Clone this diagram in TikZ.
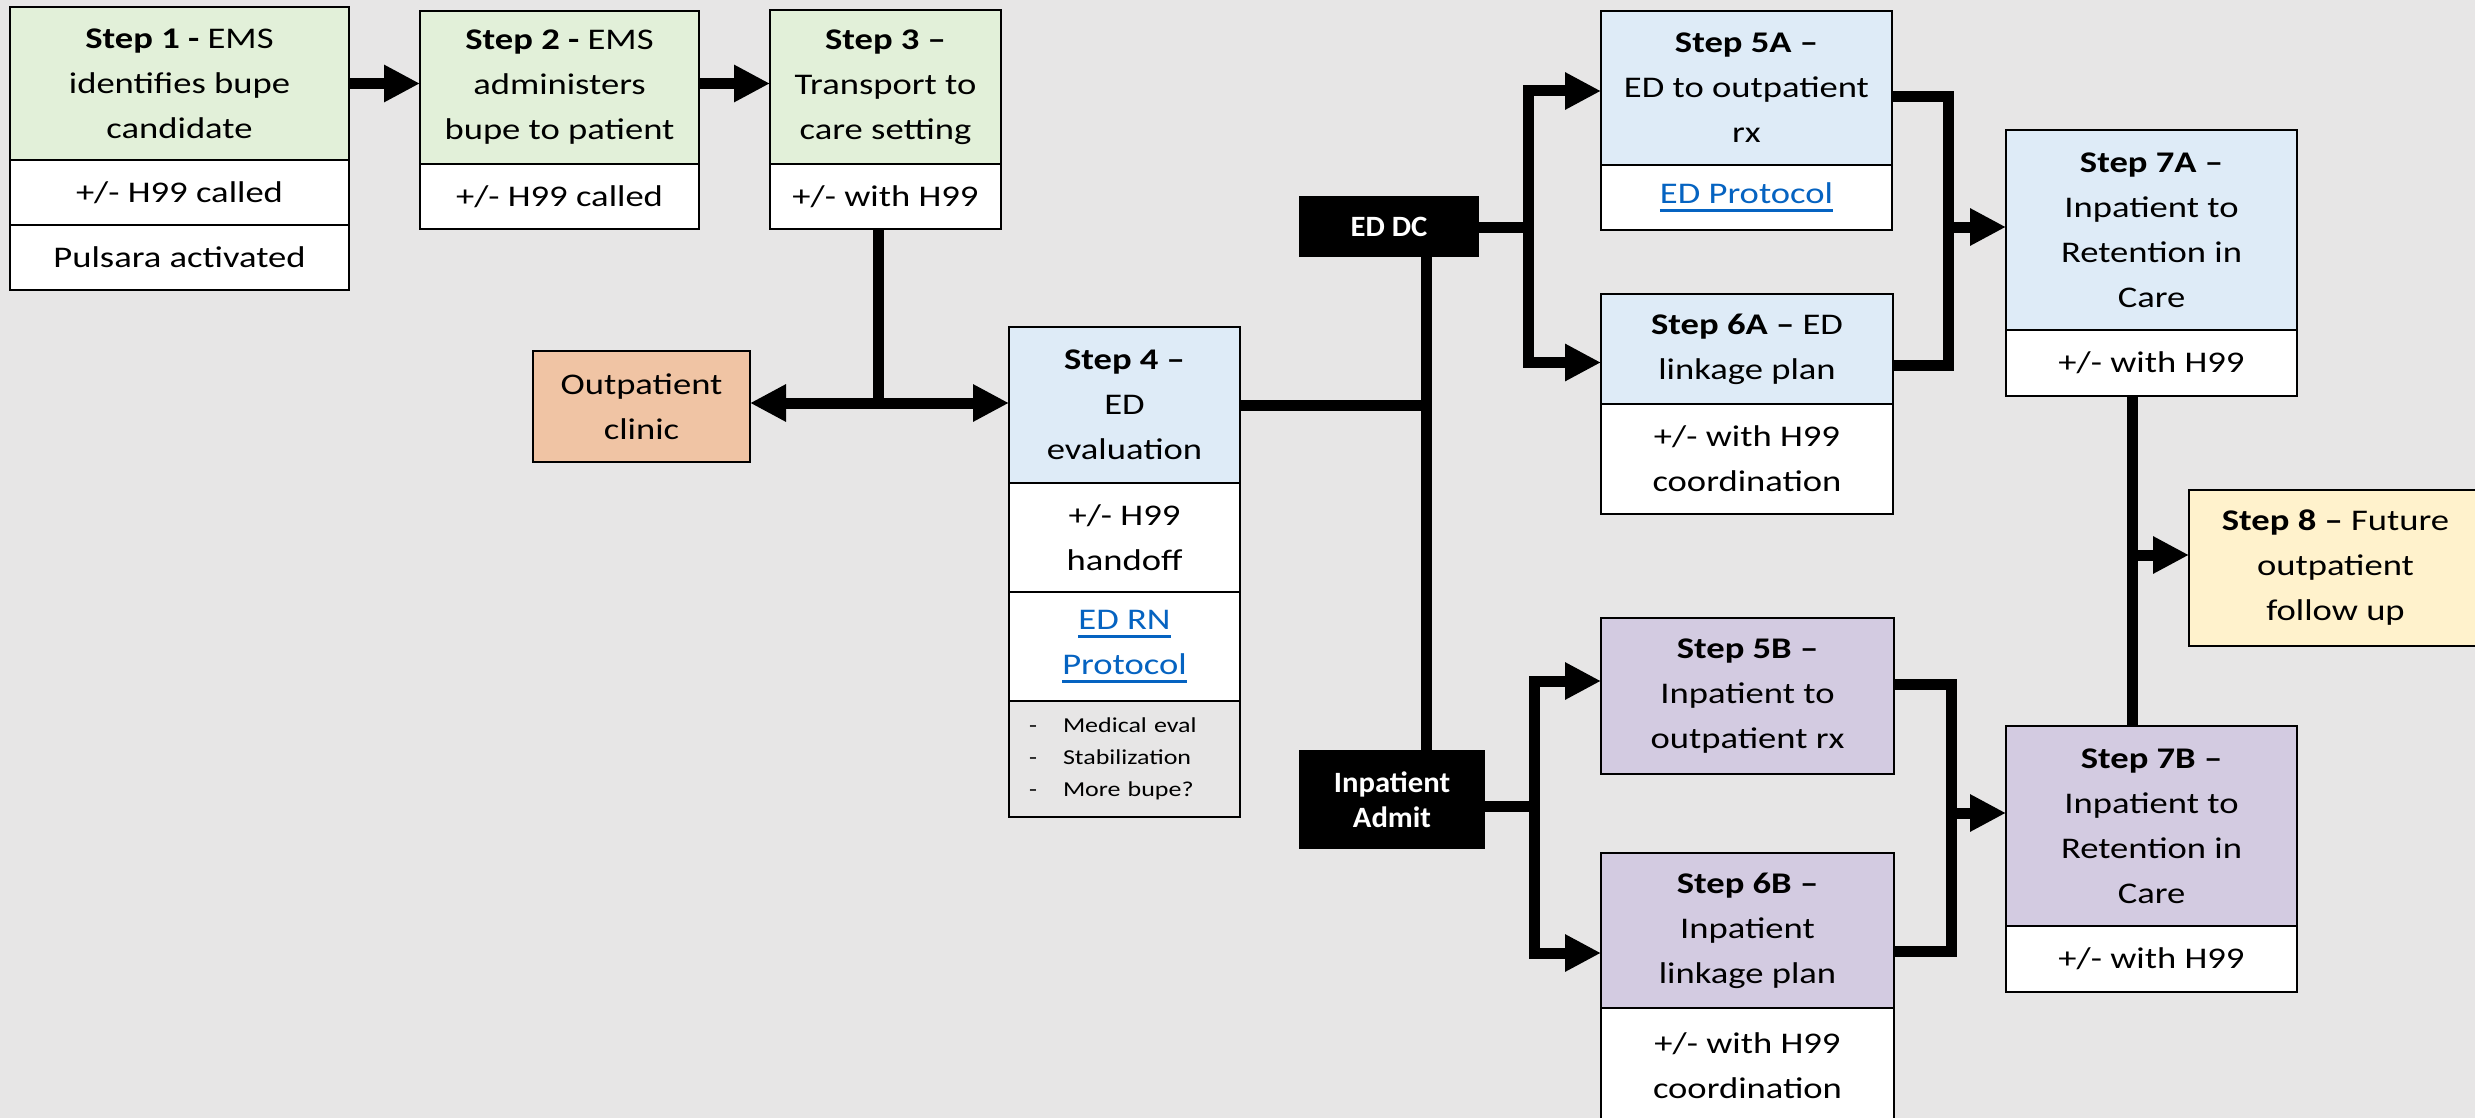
\documentclass[tikz,border=0pt]{standalone}
\usepackage{fontspec}
\setmainfont{Carlito}[FakeStretch=1.22]
\newfontfamily\lblfont{Carlito}[FakeStretch=1.04]
\usetikzlibrary{arrows.meta}
\definecolor{bgcol}{HTML}{E7E6E6}
\definecolor{grn}{HTML}{E2F0D9}
\definecolor{blu}{HTML}{DEEBF7}
\definecolor{org}{HTML}{F0C4A4}
\definecolor{pur}{HTML}{D3CBE1}
\definecolor{yel}{HTML}{FFF2CC}
\definecolor{linkblue}{HTML}{0563C1}
\newcommand\linktext[1]{\textcolor{linkblue}{\setbox0\hbox{#1}\rlap{\rule[-8pt]{\wd0}{2.5pt}}\box0}}
\begin{document}
\begin{tikzpicture}[x=1pt,y=-1pt,
  box/.style={draw=black, line width=2.5pt, anchor=north west, inner sep=0pt, outer sep=0pt, align=center, font=\fontsize{30}{45}\selectfont, text=black},
  lbl/.style={box, fill=black, text=white, font=\lblfont\bfseries\fontsize{29.5}{35}\selectfont},
  conn/.style={draw=black, line width=11pt},
  arrowend/.style={-{Triangle[length=36pt,width=35pt]}},
  arrowboth/.style={{Triangle[length=36pt,width=35pt]}-{Triangle[length=36pt,width=35pt]}}
]
\useasboundingbox (0,0) rectangle (2475,1118);
\clip (0,0) rectangle (2475,1118);
\fill[bgcol] (0,0) rectangle (2475,1118);

% Step 1
\node[box, fill=grn, minimum width=339pt, minimum height=153pt] (s1a) at (10,7) {\textbf{Step 1 -} EMS\\identifies bupe\\candidate};
\node[box, fill=white, minimum width=339pt, minimum height=65pt] (s1b) at (10,160) {+/- H99 called};
\node[box, fill=white, minimum width=339pt, minimum height=65pt] (s1c) at (10,225) {Pulsara activated};
% Step 2
\node[box, fill=grn, minimum width=279pt, minimum height=153pt] (s2a) at (420,11) {\textbf{Step 2 -} EMS\\administers\\bupe to patient};
\node[box, fill=white, minimum width=279pt, minimum height=65pt] (s2b) at (420,164) {+/- H99 called};
% Step 3
\node[box, fill=grn, minimum width=231pt, minimum height=154pt] (s3a) at (770,10) {\textbf{Step 3 –}\\Transport to\\care setting};
\node[box, fill=white, minimum width=231pt, minimum height=65pt] (s3b) at (770,164) {+/- with H99};
% Outpatient clinic
\node[box, fill=org, minimum width=217pt, minimum height=111pt] (out) at (533,351) {Outpatient\\clinic};
% Step 4
\node[box, fill=blu, minimum width=231pt, minimum height=156pt] (s4a) at (1009,327) {\textbf{Step 4 –}\\ED\\evaluation};
\node[box, fill=white, minimum width=231pt, minimum height=109pt] (s4b) at (1009,483) {+/- H99\\handoff};
\node[box, fill=white, minimum width=231pt, minimum height=109pt] (s4c) at (1009,592) {\linktext{ED RN}\\\linktext{Protocol}};
\node[box, fill=bgcol, minimum width=231pt, minimum height=116pt, text width=191pt, inner xsep=20pt, align=left, font=\fontsize{21.3}{32}\selectfont] (s4d) at (1009,701) {\makebox[34pt][l]{-}Medical eval\\\makebox[34pt][l]{-}Stabilization\\\makebox[34pt][l]{-}More bupe?};
% Decision labels
\node[lbl, minimum width=178pt, minimum height=59pt] (eddc) at (1300,197) {ED DC};
\node[lbl, minimum width=184pt, minimum height=97pt] (adm) at (1300,751) {Inpatient\\Admit};
% Step 5A / 6A / 7A
\node[box, fill=blu, minimum width=291pt, minimum height=154pt] (s5a) at (1601,11) {\textbf{Step 5A –}\\ED to outpatient\\rx};
\node[box, fill=white, minimum width=291pt, minimum height=65pt] (s5ab) at (1601,165) {\linktext{ED Protocol}};
\node[box, fill=blu, minimum width=292pt, minimum height=110pt] (s6a) at (1601,294) {\textbf{Step 6A –} ED\\linkage plan};
\node[box, fill=white, minimum width=292pt, minimum height=110pt] (s6ab) at (1601,404) {+/- with H99\\coordination};
\node[box, fill=blu, minimum width=291pt, minimum height=200pt] (s7a) at (2006,130) {\textbf{Step 7A –}\\Inpatient to\\Retention in\\Care};
\node[box, fill=white, minimum width=291pt, minimum height=66pt] (s7ab) at (2006,330) {+/- with H99};
% Step 8
\node[box, fill=yel, minimum width=293pt, minimum height=156pt] (s8) at (2189,490) {\textbf{Step 8 –} Future\\outpatient\\follow up};
% Step 5B / 6B / 7B
\node[box, fill=pur, minimum width=293pt, minimum height=156pt] (s5b) at (1601,618) {\textbf{Step 5B –}\\Inpatient to\\outpatient rx};
\node[box, fill=pur, minimum width=293pt, minimum height=155pt] (s6b) at (1601,853) {\textbf{Step 6B –}\\Inpatient\\linkage plan};
\node[box, fill=white, minimum width=293pt, minimum height=115pt] (s6bb) at (1601,1008) {+/- with H99\\coordination};
\node[box, fill=pur, minimum width=291pt, minimum height=200pt] (s7b) at (2006,726) {\textbf{Step 7B –}\\Inpatient to\\Retention in\\Care};
\node[box, fill=white, minimum width=291pt, minimum height=66pt] (s7bb) at (2006,926) {+/- with H99};

% helper coordinates
\coordinate (j3) at (878,403);
\coordinate (tr) at (1426,405);
\coordinate (ba1) at (1528,91);
\coordinate (ba2) at (1528,362.5);
\coordinate (bam) at (1528,227);
\coordinate (ma1) at (1948,97);
\coordinate (ma2) at (1948,365);
\coordinate (mam) at (1948,227);
\coordinate (bb1) at (1534,681);
\coordinate (bb2) at (1534,953);
\coordinate (bbm) at (1534,806);
\coordinate (mb1) at (1951,684);
\coordinate (mb2) at (1951,951);
\coordinate (mbm) at (1951,813);
\coordinate (v7) at (2132,555);

% connectors
\draw[conn, arrowend] (s1a.east) -- (s2a.west |- s1a.east);
\draw[conn, arrowend] (s2a.east |- s1a.east) -- (s3a.west |- s1a.east);
\draw[conn] (s3b.south -| j3) -- (j3);
\draw[conn, arrowboth] (out.east |- j3) -- (s4a.west |- j3);
\draw[conn] (s4a.east) -- (s4a.east -| tr);
\draw[conn] (eddc.south -| tr) -- (adm.north -| tr);
\draw[conn] (eddc.east |- bam) -- (bam);
\draw[conn, arrowboth] (s5a.west |- ba1) -- (ba1) -- (ba2) -- (s6a.west |- ba2);
\draw[conn] (s5a.east |- ma1) -- (ma1) -- (ma2) -- (s6a.east |- ma2);
\draw[conn, arrowend] (mam) -- (s7a.west |- mam);
\draw[conn] (adm.east |- bbm) -- (bbm);
\draw[conn, arrowboth] (s5b.west |- bb1) -- (bb1) -- (bb2) -- (s6b.west |- bb2);
\draw[conn] (s5b.east |- mb1) -- (mb1) -- (mb2) -- (s6b.east |- mb2);
\draw[conn, arrowend] (mbm) -- (s7b.west |- mbm);
\draw[conn] (s7ab.south -| v7) -- (s7b.north -| v7);
\draw[conn, arrowend] (v7) -- (s8.west |- v7);
\end{tikzpicture}
\end{document}
